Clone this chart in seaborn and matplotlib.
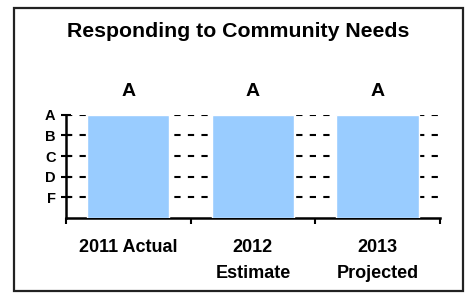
import matplotlib
matplotlib.use("Agg")
import matplotlib.pyplot as plt
import seaborn as sns
from matplotlib.patches import Rectangle

# ----------------------------------------
# Data
# ----------------------------------------

categories = ["2011 Actual", "2012\nEstimate", "2013\nProjected"]
grades = ["A", "A", "A"]
grade_scale = ["F", "D", "C", "B", "A"]  # low -> high

values = [grade_scale.index(g) + 1 for g in grades]

# ----------------------------------------
# Plot
# ----------------------------------------

sns.set_theme(style="white")
plt.rcParams["font.family"] = ["Liberation Sans", "DejaVu Sans"]
plt.rcParams["text.color"] = "black"
plt.rcParams["xtick.color"] = "black"
plt.rcParams["ytick.color"] = "black"

fig = plt.figure(figsize=(4.69, 2.93), dpi=100)
ax = fig.add_axes([0.1407, 0.256, 0.797, 0.352])

sns.barplot(x=categories, y=values, color="#99CCFF", saturation=1,
            width=0.66, ax=ax, zorder=3)

ax.set_ylim(0, len(grade_scale))
ax.set_xlim(-0.5, len(categories) - 0.5)

ax.set_yticks(range(1, len(grade_scale) + 1))
ax.set_yticklabels(grade_scale, fontsize=10.5, fontweight="bold")
ax.tick_params(axis="y", left=True, direction="inout", length=7,
               width=1.5, color="black", labelcolor="black", pad=4)

ax.set_xticks(range(len(categories)))
ax.set_xticklabels(categories, fontsize=13, fontweight="bold",
                   linespacing=1.7, va="top")
ax.tick_params(axis="x", which="major", bottom=False, length=0, pad=15,
               labelcolor="black")
ax.set_xticks([i - 0.5 for i in range(len(categories) + 1)], minor=True)
ax.tick_params(axis="x", which="minor", bottom=True, direction="out",
               length=4, width=1.5, color="black")

for y in range(1, len(grade_scale) + 1):
    ax.axhline(y, color="black", lw=1.5, ls=(0, (3, 3.5)), zorder=1)

for side in ["top", "right"]:
    ax.spines[side].set_visible(False)
for side in ["left", "bottom"]:
    ax.spines[side].set_color("black")
    ax.spines[side].set_linewidth(1.8)

ax.set_xlabel("")
ax.set_ylabel("")

ax.bar_label(ax.containers[0], labels=grades, padding=11,
             fontsize=14, fontweight="bold", color="black")

fig.text(0.5085, 0.891, "Responding to Community Needs",
         ha="center", va="center", fontsize=15.3, fontweight="bold",
         color="black")

fig.patches.append(Rectangle((0.0299, 0.0068), 0.957, 0.966,
                             transform=fig.transFigure, fill=False,
                             edgecolor="#222222", linewidth=1.6))

plt.savefig("out.png", dpi=100)
